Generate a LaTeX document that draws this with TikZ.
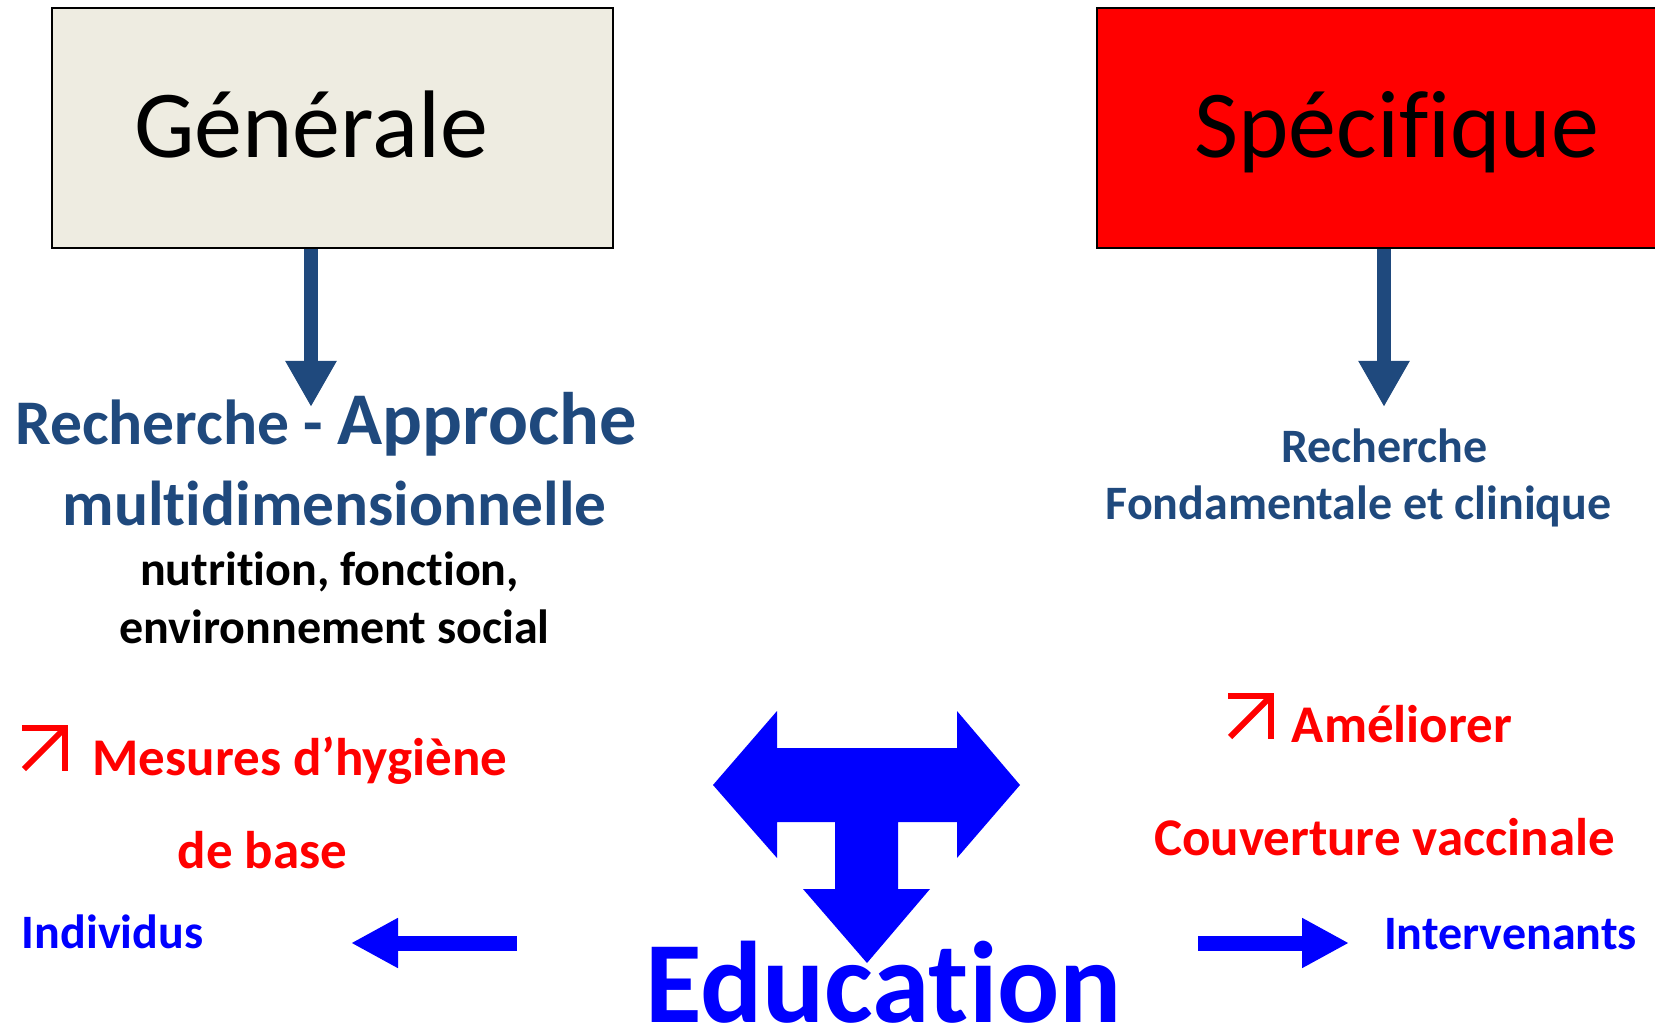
\documentclass[tikz,border=0pt]{standalone}
\usepackage{fontspec}
\setmainfont{Carlito}[Ligatures={TeX,NoCommon}]
\usetikzlibrary{arrows.meta}

\definecolor{boxbeige}{HTML}{EEECE1}
\definecolor{darkblue}{HTML}{1F497D}

\tikzset{
    headbox/.style={draw=black, line width=1.2pt, anchor=west, align=left, inner ysep=0pt,
        minimum height=120pt, text height=29.7pt, text depth=0pt,
        font=\fontsize{48}{57}\selectfont},
    txt/.style={inner sep=0pt, anchor=base, font=\bfseries},
    downarrow/.style={darkblue, line width=7pt, -{Triangle[length=23pt,width=24pt]}},
    sidearrow/.style={blue, line width=7.5pt, -{Triangle[length=23.5pt,width=23.5pt]}},
    upmark/.style={red, line width=3pt}
}

\begin{document}
\begin{tikzpicture}[x=0.5pt,y=-0.5pt]
    \clip (0,0) rectangle (1655,1026);

    % Boxes
    \node[headbox, fill=boxbeige, inner xsep=41pt, text width=198.5pt] (gen) at (51,128) {Générale};
    \node[headbox, fill=red, inner xsep=48.5pt, text width=220pt] (spec) at (1096,128) {Spécifique};

    % Research texts
    \node[txt, darkblue] (genRes) at (326,445) {\fontsize{31.8}{38}\selectfont Recherche - \fontsize{37.2}{45}\selectfont Approche};
    \node[txt, darkblue] (genDim) at (334.5,525) {\fontsize{31.7}{38}\selectfont multidimensionnelle};
    \node[txt] (genNut) at (329.5,585) {\fontsize{24}{29}\selectfont nutrition, fonction,};
    \node[txt] (genEnv) at (334.5,643) {\fontsize{24}{29}\selectfont environnement social};
    \node[txt, darkblue] (specRes) at (1384.5,463) {\fontsize{24}{29}\selectfont Recherche};
    \node[txt, darkblue] (specFond) at (1358.5,520) {\fontsize{24}{29}\selectfont Fondamentale et clinique};

    % Actions
    \node[txt, red] (hyg) at (300,775) {\fontsize{26.5}{32}\selectfont Mesures d’hygiène};
    \node[txt, red] (hygBase) at (262.5,868) {\fontsize{26.5}{32}\selectfont de base};
    \node[txt, red] (amel) at (1402,742) {\fontsize{26.5}{32}\selectfont Améliorer};
    \node[txt, red] (vacc) at (1384.5,855) {\fontsize{26.5}{32}\selectfont Couverture vaccinale};
    \node[txt, blue] (indiv) at (112.5,948) {\fontsize{24}{29}\selectfont Individus};
    \node[txt, blue] (interv) at (1510.5,949) {\fontsize{24}{29}\selectfont Intervenants};
    \node[txt, blue] (edu) at (883.5,1022) {\fontsize{58}{70}\selectfont Education};

    % Arrows
    \coordinate (genTip) at (311,407);
    \coordinate (specTip) at (1384,407);
    \draw[downarrow] (genTip |- gen.south) -- (genTip);
    \draw[downarrow] (specTip |- spec.south) -- (specTip);

    \coordinate (leftTail) at (517,943);
    \coordinate (leftTip) at (351,943);
    \coordinate (rightTail) at (1198,943);
    \coordinate (rightTip) at (1349,943);
    \draw[sidearrow] (leftTail) -- (leftTip);
    \draw[sidearrow] (rightTail) -- (rightTip);

    % T-shaped arrow above Education
    \fill[blue] (713,785) -- (777,711) -- (777,748) -- (957,748) -- (957,711) -- (1020,785)
        -- (957,858) -- (957,822) -- (898,822) -- (898,889) -- (930,889) -- (867,963)
        -- (803,889) -- (835,889) -- (835,822) -- (777,822) -- (777,858) -- cycle;

    % small increase marks
    \draw[upmark] (22,728) -- (65,728) -- (65,771);
    \draw[upmark] (24,769) -- (65,728);
    \draw[upmark] (1228,696) -- (1271,696) -- (1271,739);
    \draw[upmark] (1230,737) -- (1271,696);

\end{tikzpicture}
\end{document}
